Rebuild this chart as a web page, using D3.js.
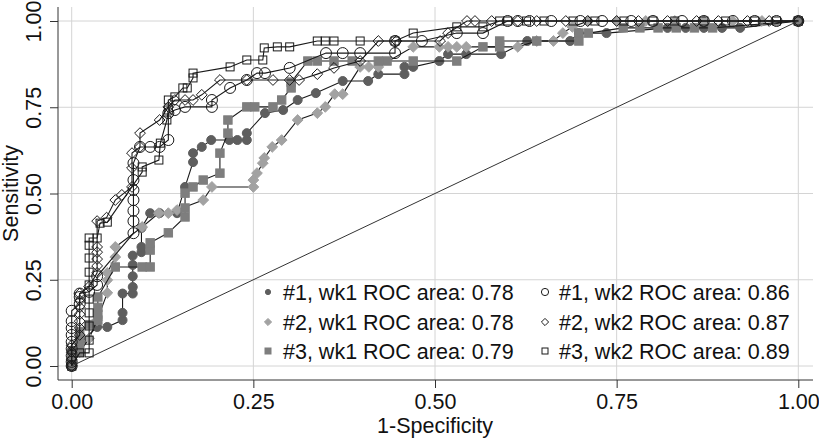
<!DOCTYPE html>
<html><head><meta charset="utf-8">
<script src="https://cdn.jsdelivr.net/npm/d3@7"></script>
<style>
html,body{margin:0;padding:0;background:#fff;}
svg{display:block;font-family:"Liberation Sans",Arial,Helvetica,sans-serif;}
</style></head>
<body><svg id="c" width="819" height="439"></svg>
<script>
// ---- data (1-Specificity, Sensitivity) ----
const s1wk1 = [[0,0],[0,0.015],[0,0.03],[0,0.045],[0.035,0.113],[0.049,0.113],[0.07,0.133],[0.07,0.154],[0.07,0.21],[0.084,0.21],[0.084,0.229],[0.084,0.26],[0.084,0.293],[0.084,0.32],[0.096,0.33],[0.096,0.345],[0.096,0.4],[0.108,0.443],[0.121,0.443],[0.145,0.443],[0.156,0.519],[0.167,0.591],[0.167,0.617],[0.179,0.635],[0.192,0.655],[0.217,0.655],[0.228,0.655],[0.241,0.655],[0.241,0.675],[0.266,0.733],[0.291,0.742],[0.311,0.771],[0.336,0.791],[0.373,0.826],[0.408,0.826],[0.422,0.846],[0.458,0.846],[0.458,0.867],[0.47,0.867],[0.506,0.884],[0.518,0.904],[0.543,0.904],[0.591,0.904],[0.627,0.942],[0.686,0.942],[0.698,0.965],[0.736,0.965],[0.82,0.98],[0.845,0.98],[0.87,0.98],[0.895,0.98],[0.92,0.98],[1,1]];
const s2wk1 = [[0,0],[0,0.02],[0.011,0.04],[0.024,0.08],[0.035,0.133],[0.049,0.212],[0.049,0.249],[0.049,0.27],[0.06,0.316],[0.06,0.345],[0.097,0.403],[0.12,0.443],[0.133,0.443],[0.145,0.452],[0.181,0.481],[0.193,0.519],[0.25,0.519],[0.25,0.539],[0.255,0.559],[0.263,0.588],[0.265,0.603],[0.276,0.635],[0.289,0.655],[0.311,0.713],[0.338,0.733],[0.349,0.751],[0.362,0.788],[0.373,0.788],[0.397,0.867],[0.409,0.867],[0.422,0.867],[0.47,0.925],[0.506,0.925],[0.518,0.925],[0.53,0.925],[0.543,0.925],[0.614,0.925],[0.64,0.942],[0.663,0.942],[0.676,0.965],[0.689,0.983],[0.711,1],[0.75,1],[0.79,1],[0.83,1],[0.87,1],[0.91,1],[0.95,1],[1,1]];
const s3wk1 = [[0,0],[0,0.02],[0.011,0.04],[0.011,0.06],[0.011,0.08],[0.011,0.1],[0.024,0.12],[0.036,0.133],[0.036,0.15],[0.036,0.17],[0.036,0.2],[0.06,0.287],[0.097,0.287],[0.108,0.287],[0.108,0.336],[0.108,0.357],[0.133,0.386],[0.156,0.432],[0.156,0.458],[0.156,0.501],[0.167,0.519],[0.181,0.539],[0.204,0.559],[0.204,0.617],[0.215,0.675],[0.215,0.713],[0.241,0.751],[0.252,0.751],[0.277,0.751],[0.289,0.771],[0.302,0.806],[0.302,0.823],[0.325,0.884],[0.338,0.884],[0.361,0.884],[0.386,0.884],[0.422,0.884],[0.434,0.884],[0.47,0.884],[0.53,0.884],[0.566,0.925],[0.589,0.925],[0.589,0.942],[0.64,0.942],[0.698,0.942],[0.698,0.965],[0.711,0.965],[0.759,0.98],[0.782,0.98],[0.807,0.98],[0.832,0.98],[0.857,0.98],[0.882,0.98],[1,1]];
const s1wk2 = [[0,0],[0,0.012],[0,0.03],[0,0.05],[0,0.07],[0,0.09],[0,0.11],[0,0.13],[0,0.16],[0.011,0.18],[0.011,0.2],[0.011,0.21],[0.024,0.215],[0.035,0.235],[0.035,0.26],[0.085,0.385],[0.085,0.42],[0.085,0.45],[0.085,0.481],[0.085,0.51],[0.085,0.539],[0.085,0.588],[0.094,0.635],[0.108,0.635],[0.121,0.635],[0.133,0.655],[0.133,0.733],[0.142,0.742],[0.156,0.751],[0.193,0.751],[0.193,0.771],[0.218,0.806],[0.241,0.829],[0.255,0.849],[0.266,0.849],[0.3,0.864],[0.35,0.907],[0.373,0.907],[0.397,0.907],[0.445,0.907],[0.445,0.942],[0.482,0.942],[0.53,0.965],[0.566,0.965],[0.6,1],[0.614,1],[0.63,1],[0.66,1],[0.7,1],[0.73,1],[0.77,1],[0.8,1],[0.84,1],[0.87,1],[0.91,1],[0.94,1],[0.97,1],[1,1]];
const s2wk2 = [[0,0],[0,0.02],[0,0.04],[0,0.06],[0.011,0.09],[0.011,0.11],[0.011,0.13],[0.011,0.15],[0.011,0.17],[0.011,0.19],[0.011,0.21],[0.024,0.23],[0.035,0.27],[0.035,0.29],[0.035,0.31],[0.035,0.33],[0.035,0.345],[0.035,0.42],[0.048,0.43],[0.06,0.481],[0.069,0.496],[0.083,0.519],[0.083,0.574],[0.083,0.617],[0.094,0.635],[0.094,0.675],[0.121,0.713],[0.133,0.751],[0.142,0.771],[0.156,0.771],[0.167,0.771],[0.179,0.786],[0.204,0.829],[0.241,0.829],[0.277,0.829],[0.3,0.829],[0.313,0.829],[0.338,0.846],[0.361,0.864],[0.397,0.884],[0.422,0.942],[0.447,0.942],[0.507,0.942],[0.518,0.965],[0.544,1],[0.555,1],[0.578,1],[0.614,1],[0.64,1],[0.68,1],[0.71,1],[0.75,1],[0.78,1],[0.82,1],[0.86,1],[0.89,1],[0.93,1],[0.96,1],[1,1]];
const s3wk2 = [[0,0],[0.011,0.038],[0.024,0.038],[0.024,0.075],[0.024,0.116],[0.024,0.154],[0.024,0.194],[0.024,0.235],[0.024,0.272],[0.024,0.313],[0.024,0.35],[0.024,0.371],[0.035,0.371],[0.039,0.414],[0.049,0.417],[0.097,0.562],[0.097,0.577],[0.12,0.597],[0.122,0.646],[0.131,0.713],[0.133,0.742],[0.133,0.771],[0.142,0.78],[0.153,0.806],[0.159,0.806],[0.167,0.835],[0.167,0.849],[0.218,0.867],[0.241,0.887],[0.263,0.887],[0.265,0.922],[0.283,0.925],[0.3,0.925],[0.338,0.942],[0.349,0.942],[0.361,0.942],[0.397,0.942],[0.445,0.942],[0.47,0.965],[0.53,0.983],[0.566,0.983],[0.589,1],[0.6,1],[0.626,1],[0.65,1],[0.69,1],[0.72,1],[0.76,1],[0.8,1],[0.83,1],[0.87,1],[0.9,1],[0.94,1],[0.97,1],[1,1]];

const legendLabels = ["#1, wk1 ROC area: 0.78","#2, wk1 ROC area: 0.78","#3, wk1 ROC area: 0.79",
                      "#1, wk2 ROC area: 0.86","#2, wk2 ROC area: 0.87","#3, wk2 ROC area: 0.89"];
const tickVals = [0, 0.25, 0.5, 0.75, 1];

// ---- layout ----
const svg = d3.select("#c");
const x = d3.scaleLinear().domain([0,1]).range([71.7,798.3]);
const y = d3.scaleLinear().domain([0,1]).range([366,21]);
const L = 58, R = 813, T = 7, B = 380;
const FS = 21.5;

// grid
svg.append("g").selectAll("line").data(tickVals).join("line")
  .attr("x1",L).attr("x2",R).attr("y1",d=>y(d)).attr("y2",d=>y(d))
  .attr("stroke","#d4d4d4").attr("stroke-width",1);
svg.append("g").selectAll("line").data(tickVals).join("line")
  .attr("y1",T).attr("y2",B).attr("x1",d=>x(d)).attr("x2",d=>x(d))
  .attr("stroke","#d4d4d4").attr("stroke-width",1);

// axes
const fmt = d3.format(".2f");
const xa = svg.append("g").attr("transform",`translate(0,${B})`)
  .call(d3.axisBottom(x).tickValues(tickVals).tickFormat(fmt).tickSize(8).tickPadding(6));
xa.select(".domain").remove();
xa.selectAll("line").attr("stroke","#333");
xa.selectAll("text").attr("font-size",FS).attr("fill","#111").attr("font-family","Liberation Sans, Arial, sans-serif");
const ya = svg.append("g").attr("transform",`translate(${L},0)`)
  .call(d3.axisLeft(y).tickValues(tickVals).tickFormat(fmt).tickSize(8));
ya.select(".domain").remove();
ya.selectAll("line").attr("stroke","#333");
ya.selectAll("text").attr("font-size",FS).attr("fill","#111").attr("font-family","Liberation Sans, Arial, sans-serif")
  .attr("text-anchor","middle").attr("dy",null).attr("x",null)
  .attr("transform","translate(-17,0) rotate(-90)").attr("dy","0");
svg.append("line").attr("x1",L).attr("x2",R).attr("y1",B).attr("y2",B).attr("stroke","#333");
svg.append("line").attr("x1",L).attr("x2",L).attr("y1",T).attr("y2",B).attr("stroke","#333");

// axis titles
svg.append("text").attr("x",435).attr("y",433).attr("text-anchor","middle")
  .attr("font-size",FS).attr("fill","#111").text("1-Specificity");
svg.append("text").attr("transform",`translate(18,${(y(0)+y(1))/2}) rotate(-90)`).attr("text-anchor","middle")
  .attr("font-size",FS).attr("fill","#111").text("Sensitivity");

// marker helpers
function marker(g, shape, size, fill, stroke){
  if(shape==="circle") return g.append("circle").attr("r",size).attr("fill",fill).attr("stroke",stroke);
  if(shape==="square") return g.append("rect").attr("x",-size).attr("y",-size).attr("width",2*size).attr("height",2*size).attr("fill",fill).attr("stroke",stroke);
  return g.append("path").attr("d",`M0,${-size}L${size},0L0,${size}L${-size},0Z`).attr("fill",fill).attr("stroke",stroke);
}

const series = [
  {data:s1wk1, shape:"circle", size:4.5, fill:"#5e5e5e", stroke:"#5e5e5e", lsize:2.6},
  {data:s2wk1, shape:"diamond", size:5.4, fill:"#a2a2a2", stroke:"#a2a2a2", lsize:3.6},
  {data:s3wk1, shape:"square", size:4.2, fill:"#7e7e7e", stroke:"#7e7e7e", lsize:3},
  {data:s1wk2, shape:"circle", size:5.5, fill:"none", stroke:"#1a1a1a", lsize:3.6},
  {data:s2wk2, shape:"diamond", size:5.4, fill:"none", stroke:"#1a1a1a", lsize:3.6},
  {data:s3wk2, shape:"square", size:4, fill:"none", stroke:"#1a1a1a", lsize:3},
];

const line = d3.line().x(d=>x(d[0])).y(d=>y(d[1]));
series.forEach(s=>{
  const g = svg.append("g");
  g.append("path").attr("d",line(s.data)).attr("fill","none").attr("stroke","#1a1a1a").attr("stroke-width",1.1);
  s.data.forEach(d=>{
    const m = g.append("g").attr("transform",`translate(${x(d[0])},${y(d[1])})`);
    marker(m, s.shape, s.size, s.fill, s.stroke).attr("stroke-width",1);
  });
});

// reference diagonal
svg.append("line").attr("x1",x(0)).attr("y1",y(0)).attr("x2",x(1)).attr("y2",y(1))
  .attr("stroke","#333").attr("stroke-width",1);

// legend
const legX = [268, 545], legTX = [283, 559], legY = [292, 322, 351];
series.forEach((s,i)=>{
  const col = Math.floor(i/3), row = i%3;
  const m = svg.append("g").attr("transform",`translate(${legX[col]},${legY[row]})`);
  marker(m, s.shape, s.lsize, s.fill, s.stroke).attr("stroke-width",1);
  svg.append("text").attr("x",legTX[col]).attr("y",legY[row]+7.5)
    .attr("font-size",FS).attr("fill","#111").text(legendLabels[i]);
});
</script></body></html>
